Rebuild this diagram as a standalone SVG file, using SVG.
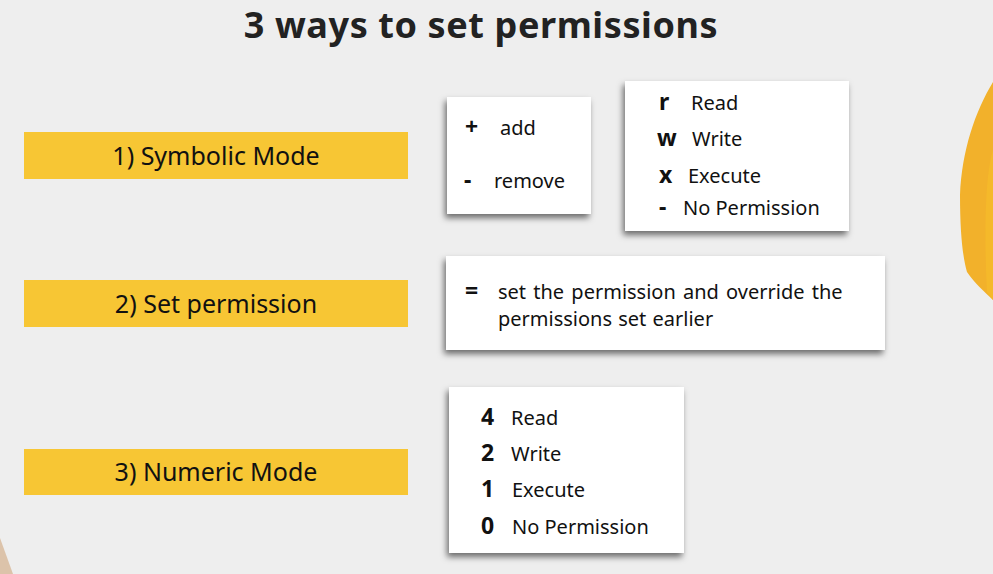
<svg xmlns="http://www.w3.org/2000/svg" width="993" height="574" viewBox="0 0 993 574">
<defs>
<filter id="sh" x="-10%" y="-10%" width="120%" height="130%">
<feDropShadow dx="-2" dy="4" stdDeviation="3" flood-color="#000" flood-opacity="0.55"/>
</filter>
<style>
.t{font-family:"Noto Sans","Liberation Sans",sans-serif;font-size:20px;fill:#111}
.b{font-family:"Noto Sans","Liberation Sans",sans-serif;font-size:23px;font-weight:bold;fill:#111}
.lbl{font-family:"Noto Sans","Liberation Sans",sans-serif;font-size:25px;fill:#111;text-anchor:middle}
.bar{fill:#F7C634}
.box{fill:#fff;filter:url(#sh)}
</style>
</defs>
<rect width="993" height="574" fill="#EEEEEE"/>
<path d="M993,82 C975,112 962,150 960,195 C960,235 963,258 967,272 C975,284 985,292 993,300 Z" fill="#F2B12B"/>
<path d="M993,150 C985,175 984,235 987,292 L993,300 Z" fill="#F5B92A"/>
<path d="M0,538 L13,574 L0,574 Z" fill="#DCC3AA"/>
<text x="481" y="38" text-anchor="middle" font-family="'Noto Sans','Liberation Sans',sans-serif" font-size="36" font-weight="bold" letter-spacing="0.6" fill="#222">3 ways to set permissions</text>
<g id="mode1">
<rect class="bar" x="24" y="132" width="384" height="47"/>
<text class="lbl" x="216" y="165">1) Symbolic Mode</text>
</g>
<g id="mode2">
<rect class="bar" x="24" y="280" width="384" height="47"/>
<text class="lbl" x="216" y="313">2) Set permission</text>
</g>
<g id="mode3">
<rect class="bar" x="24" y="449" width="384" height="46"/>
<text class="lbl" x="216" y="481">3) Numeric Mode</text>
</g>
<g id="addremove">
<rect class="box" x="447" y="97" width="144" height="117"/>
<text class="b" x="465" y="135">+</text>
<text class="t" x="500" y="135">add</text>
<text class="b" x="464" y="188">-</text>
<text class="t" x="494" y="188">remove</text>
</g>
<g id="symbols">
<rect class="box" x="625" y="81" width="224" height="150"/>
<text class="b" x="659" y="110">r</text>
<text class="t" x="691" y="110">Read</text>
<text class="b" x="657" y="146">w</text>
<text class="t" x="692" y="146">Write</text>
<text class="b" x="659" y="183">x</text>
<text class="t" x="688" y="183">Execute</text>
<text class="b" x="659" y="215">-</text>
<text class="t" x="683" y="215">No Permission</text>
</g>
<g id="setperm">
<rect class="box" x="446" y="256" width="439" height="94"/>
<text class="b" x="465" y="299">=</text>
<text class="t" x="498" y="299" font-size="21" word-spacing="2">set the permission and override the</text>
<text class="t" x="498" y="326" font-size="21" word-spacing="1">permissions set earlier</text>
</g>
<g id="numeric">
<rect class="box" x="449" y="387" width="235" height="166"/>
<text class="b" x="481" y="425">4</text>
<text class="t" x="511" y="425">Read</text>
<text class="b" x="481" y="461">2</text>
<text class="t" x="511" y="461">Write</text>
<text class="b" x="481" y="497">1</text>
<text class="t" x="512" y="497">Execute</text>
<text class="b" x="481" y="534">0</text>
<text class="t" x="512" y="534">No Permission</text>
</g>
<g id="connectors"/>
</svg>
